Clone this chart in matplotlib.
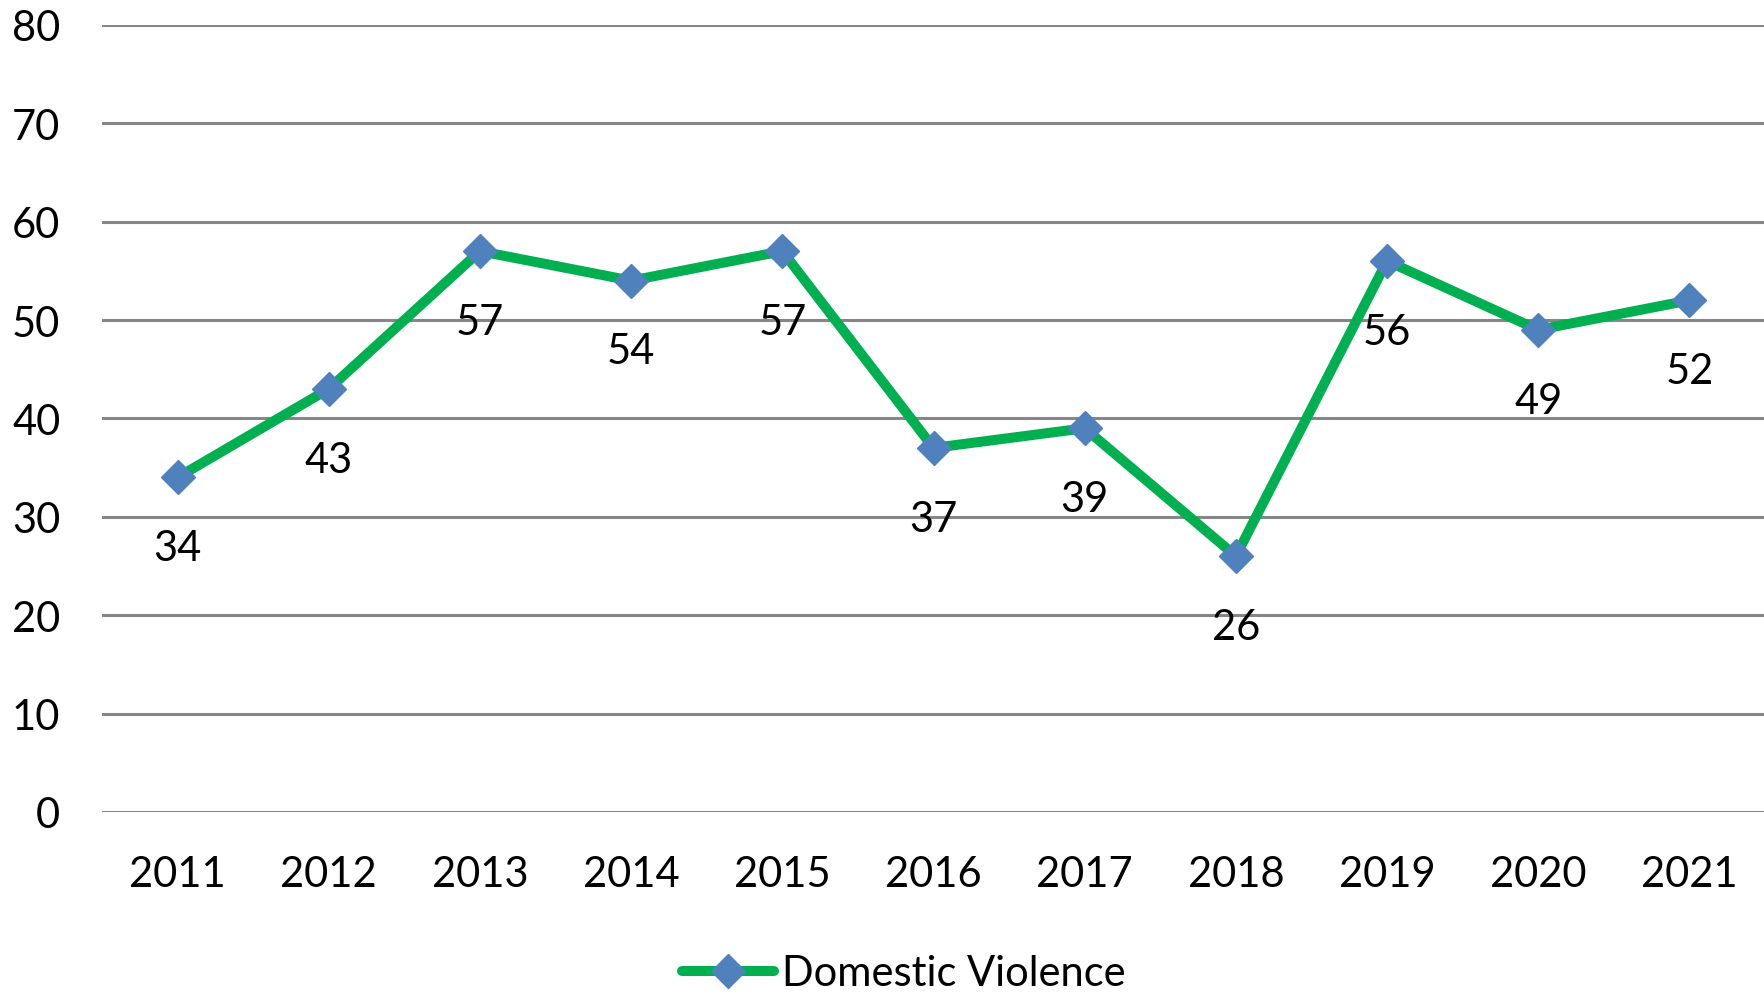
import matplotlib.pyplot as plt

plt.rcParams['font.family'] = ['Lato', 'DejaVu Sans']

years = ['2011', '2012', '2013', '2014', '2015', '2016', '2017', '2018', '2019', '2020', '2021']
cases = [34, 43, 57, 54, 57, 37, 39, 26, 56, 49, 52]
y_ticks = [0, 10, 20, 30, 40, 50, 60, 70, 80]

fig = plt.figure(figsize=(17.65, 9.95), dpi=100)
ax = fig.add_axes([0.0578, 0.183, 0.9422, 0.791])

x = list(range(len(years)))
line, = ax.plot(x, cases, color='#00B050', linewidth=7.2,
                marker='D', markersize=17.5, markerfacecolor='#4F81BD',
                markeredgecolor='#4F81BD', label='Domestic Violence', zorder=3)

# data labels under each point
for i, v in enumerate(cases):
    ax.annotate(str(v), (i, v), xytext=(0, -51), textcoords='offset points',
                ha='center', va='center', fontsize=30, color='black', zorder=4)

ax.set_xlim(-0.5, len(years) - 0.5)
ax.set_ylim(0, 80)
ax.set_yticks(y_ticks)
ax.set_xticks(x)
ax.set_xticklabels(years)
ax.grid(axis='y', color='#868686', linewidth=2.2)
ax.set_axisbelow(True)
for s in ax.spines.values():
    s.set_visible(False)
ax.tick_params(axis='both', length=0, labelsize=30, colors='black')
ax.tick_params(axis='y', pad=30)
ax.tick_params(axis='x', pad=31)

leg = fig.legend(handles=[line], loc='center', bbox_to_anchor=(0.512, 0.021),
                 frameon=False, fontsize=30, handlelength=2.2, handletextpad=0.2)
for h in leg.legend_handles:
    h.set_solid_capstyle('round')

fig.savefig('out.png', dpi=100)
